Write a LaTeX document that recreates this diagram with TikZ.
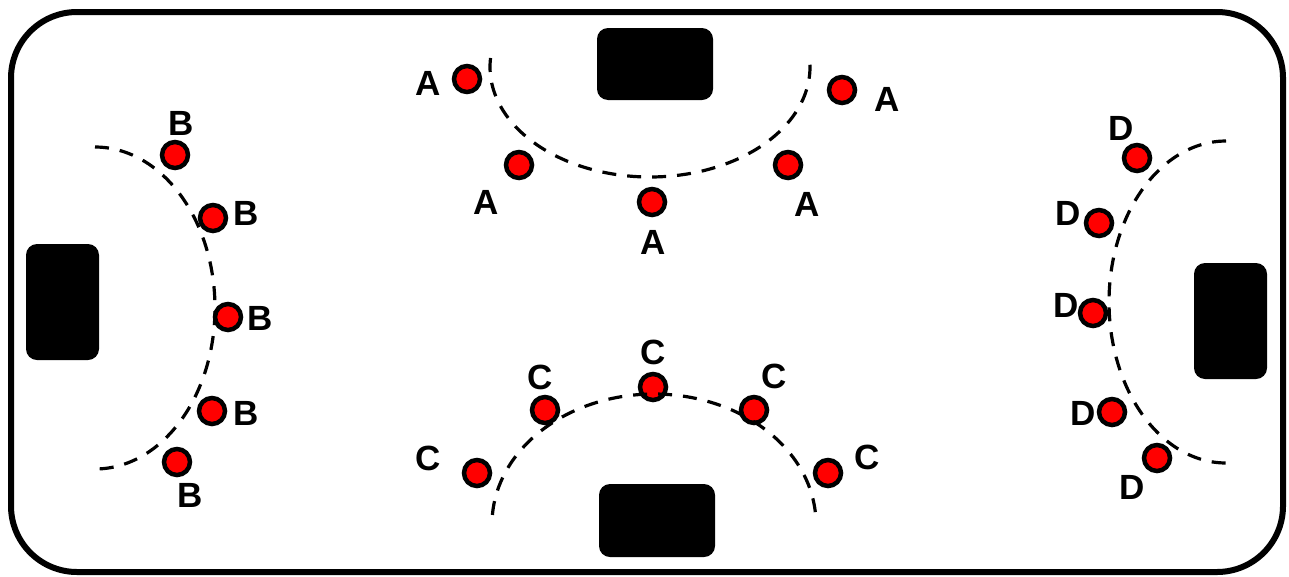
\documentclass[tikz,border=0pt]{standalone}
\usepackage{fontspec}
\setmainfont{Liberation Sans}
\begin{document}
\begin{tikzpicture}[x=1pt,y=-1pt,
  player/.style={circle,fill=red,draw=black,line width=4.5pt,minimum size=26pt,inner sep=0pt},
  lab/.style={inner sep=0pt,font=\fontsize{35}{42}\selectfont\bfseries},
  goal/.style={fill=black,rounded corners=11pt},
  curve/.style={dash pattern=on 14pt off 11pt,line width=3.2pt},
  rink/.style={draw=black,line width=6pt,rounded corners=66pt}]
\useasboundingbox (0,0) rectangle (1289,576);
% rink border
\draw[rink] (11,12) rectangle (1283,572);
% goals
\fill[goal] (597,28) rectangle (713,100);
\fill[goal] (599,484) rectangle (715,557);
\fill[goal] (26,244) rectangle (99,360);
\fill[goal] (1194,263) rectangle (1267,379);
% players A
\node[player] (a1) at (467,79) {};
\node[player] (a2) at (519,165) {};
\node[player] (a3) at (652,202) {};
\node[player] (a4) at (788,165) {};
\node[player] (a5) at (842,90) {};
\node[lab] (la1) at (428,83) {A};
\node[lab] (la2) at (486,202) {A};
\node[lab] (la3) at (653,242) {A};
\node[lab] (la4) at (807,204) {A};
\node[lab] (la5) at (887,99) {A};
% players B
\node[player] (b1) at (175,155) {};
\node[player] (b2) at (213,218) {};
\node[player] (b3) at (228,317) {};
\node[player] (b4) at (212,411) {};
\node[player] (b5) at (177,462) {};
\node[lab] (lb1) at (181,123) {B};
\node[lab] (lb2) at (246,213) {B};
\node[lab] (lb3) at (260,318) {B};
\node[lab] (lb4) at (246,413) {B};
\node[lab] (lb5) at (190,495) {B};
% players C
\node[player] (c1) at (477,473) {};
\node[player] (c2) at (545,410) {};
\node[player] (c3) at (653,387) {};
\node[player] (c4) at (754,410) {};
\node[player] (c5) at (828,473) {};
\node[lab] (lc1) at (428,458) {C};
\node[lab] (lc2) at (540,377) {C};
\node[lab] (lc3) at (653,352) {C};
\node[lab] (lc4) at (774,376) {C};
\node[lab] (lc5) at (867,457) {C};
% players D
\node[player] (d1) at (1137,158) {};
\node[player] (d2) at (1099,223) {};
\node[player] (d3) at (1093,313) {};
\node[player] (d4) at (1112,412) {};
\node[player] (d5) at (1157,458) {};
\node[lab] (ld1) at (1121,128) {D};
\node[lab] (ld2) at (1068,213) {D};
\node[lab] (ld3) at (1066,305) {D};
\node[lab] (ld4) at (1083,413) {D};
\node[lab] (ld5) at (1132,487) {D};
% dashed arcs
\draw[curve] plot[domain=184.7:-4.7,samples=80,smooth] ({650+160*cos(\x)},{67+110*sin(\x)});
\draw[curve] plot[domain=184:356,samples=80,smooth] ({654+162*cos(\x)},{524+130*sin(\x)});
\draw[curve] plot[domain=-90:90,samples=80,smooth] ({95+120*cos(\x)},{308+161*sin(\x)});
\draw[curve] plot[domain=270:90,samples=80,smooth] ({1226+117*cos(\x)},{302+161*sin(\x)});
\end{tikzpicture}
\end{document}
